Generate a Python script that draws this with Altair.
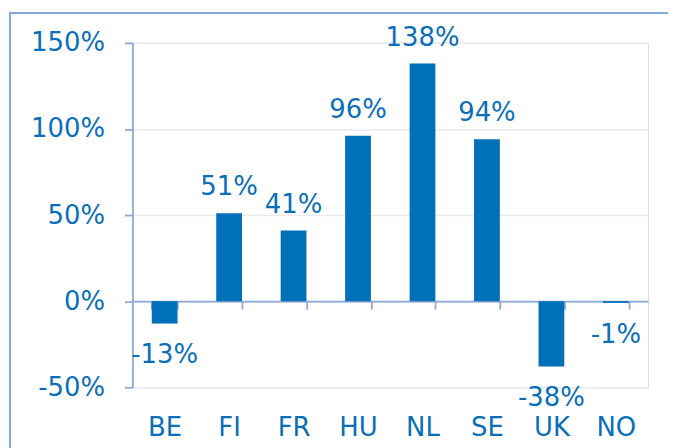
import altair as alt
import pandas as pd

countries = ["BE", "FI", "FR", "HU", "NL", "SE", "UK", "NO"]
values = [-13, 51, 41, 96, 138, 94, -38, -1]

df = pd.DataFrame({"country": countries, "value": values})
df["label"] = [f"{v}%" for v in values]

BLUE = "#0070b8"
TEXT = "#0a6fb8"
AXIS = "#8eaad6"
FONT = "DejaVu Sans"
FS = 26
W, H = 518, 346

x_scale = alt.Scale(domain=countries, paddingInner=0.6, paddingOuter=0.3)
y_scale = alt.Scale(domain=[-50, 150], nice=False, zero=False)

x_enc = alt.X(
    "country:N", sort=countries, scale=x_scale, title=None,
    axis=alt.Axis(
        orient="bottom", offset=-H * 0.25, domainColor=AXIS, domainWidth=1.8,
        tickColor=AXIS, tickWidth=1.8, tickSize=8, tickBand="extent",
        labelAngle=0, labelFont=FONT, labelFontSize=FS, labelColor=TEXT,
        labelPadding=106, grid=False,
    ),
)
y_enc = alt.Y(
    "value:Q", scale=y_scale, title=None,
    axis=alt.Axis(
        values=[-50, 0, 50, 100, 150], labelExpr="datum.value + '%'",
        domainColor=AXIS, domainWidth=1.8, tickColor=AXIS, tickWidth=1.8,
        tickSize=8, labelFont=FONT, labelFontSize=FS, labelColor=TEXT,
        labelPadding=20, gridColor="#e9e9e9", gridWidth=1.5,
    ),
)

base = alt.Chart(df)

frame = alt.Chart(pd.DataFrame({"k": [0]})).mark_rect(
    fill=None, stroke="#86a8d6", strokeWidth=2, clip=False
).encode(
    x=alt.value(-123), y=alt.value(-30), x2=alt.value(W + 200), y2=alt.value(H + 200)
)

bars = base.mark_bar(color=BLUE).encode(x=x_enc, y=y_enc, y2=alt.datum(0))

lab_pos = base.transform_filter("datum.value >= 0").mark_text(
    font=FONT, fontSize=FS, color=TEXT, baseline="alphabetic", dy=-18
).encode(x=alt.X("country:N", sort=countries, scale=x_scale), y=alt.Y("value:Q", scale=y_scale), text="label:N")

lab_neg = base.transform_filter("datum.value < 0").mark_text(
    font=FONT, fontSize=FS, color=TEXT, baseline="alphabetic", dy=40
).encode(x=alt.X("country:N", sort=countries, scale=x_scale), y=alt.Y("value:Q", scale=y_scale), text="label:N")

chart = alt.layer(bars, lab_pos, lab_neg, frame).properties(
    width=W, height=H,
    autosize=alt.AutoSizeParams(type="none"),
    padding={"left": 125, "top": 34, "right": 20, "bottom": 60},
).configure_view(stroke=None).configure(background="white")

chart.save("out.html", embed_options={"renderer": "svg", "actions": False})
